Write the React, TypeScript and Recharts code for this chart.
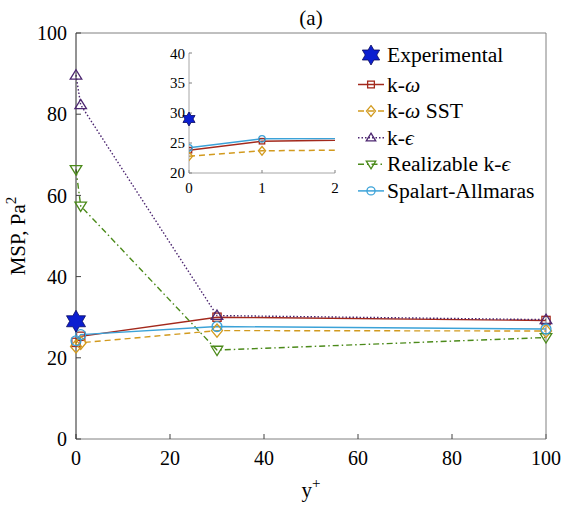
import React from "react";
import { LineChart, Line, XAxis, YAxis, Customized } from "recharts";

// y+ positions of the simulated points
const yPlus = [0, 1, 30, 100];
const kOmega = [23.8, 25.3, 30.0, 29.2];
const kOmegaSst = [22.8, 23.7, 26.7, 26.6];
const kEpsilon = [89.6, 82.3, 30.4, 29.4];
const realizableKEps = [66.4, 57.4, 21.9, 25.0];
const spalartAllmaras = [24.2, 25.7, 27.7, 27.1];
const experimental = [29.0, null, null, null];

const mainTicksX = [0, 20, 40, 60, 80, 100];
const mainTicksY = [0, 20, 40, 60, 80, 100];
const insetTicksX = [0, 1, 2];
const insetTicksY = [20, 25, 30, 35, 40];

const SERIF = "Liberation Serif, Times New Roman, Times, serif";

type Shape = "square" | "diamond" | "triUp" | "triDown" | "circle" | "star";

type Series = {
  key: string;
  label: React.ReactNode;
  color: string;
  dash?: string;
  shape: Shape;
  values: (number | null)[];
};

const it = (t: string) => <tspan fontStyle="italic">{t}</tspan>;

const series: Series[] = [
  { key: "kw", label: <>k-{it("ω")}</>, color: "#a3291c", shape: "square", values: kOmega },
  { key: "sst", label: <>k-{it("ω")} SST</>, color: "#d29a1e", dash: "6 4", shape: "diamond", values: kOmegaSst },
  { key: "ke", label: <>k-{it("ϵ")}</>, color: "#4c2670", dash: "1.5 2", shape: "triUp", values: kEpsilon },
  { key: "rke", label: <>Realizable k-{it("ϵ")}</>, color: "#4b8a1a", dash: "6 3 1.5 3", shape: "triDown", values: realizableKEps },
  { key: "sa", label: "Spalart-Allmaras", color: "#3ba2d8", shape: "circle", values: spalartAllmaras },
];

const expSeries: Series = { key: "exp", label: "Experimental", color: "#0b1ed0", shape: "star", values: experimental };

const data = yPlus.map((x, i) => {
  const row: Record<string, number | null> = { x };
  [...series, expSeries].forEach((s) => (row[s.key] = s.values[i]));
  return row;
});

function starPath(cx: number, cy: number, R: number): string {
  const r = R / Math.sqrt(3);
  let d = "";
  for (let i = 0; i < 12; i++) {
    const a = -Math.PI / 2 + (i * Math.PI) / 6;
    const rad = i % 2 === 0 ? R : r;
    d += (i ? "L" : "M") + (cx + rad * Math.cos(a)).toFixed(2) + "," + (cy + rad * Math.sin(a)).toFixed(2);
  }
  return d + "Z";
}

function Marker({ shape, cx, cy, s, color }: { shape: Shape; cx: number; cy: number; s: number; color: string }) {
  const common = { fill: "none", stroke: color, strokeWidth: 1.3 };
  switch (shape) {
    case "square":
      return <rect x={cx - s * 0.75} y={cy - s * 0.75} width={s * 1.5} height={s * 1.5} {...common} />;
    case "diamond":
      return <polygon points={`${cx},${cy - s * 1.2} ${cx + s},${cy} ${cx},${cy + s * 1.2} ${cx - s},${cy}`} {...common} />;
    case "triUp":
      return <polygon points={`${cx},${cy - s} ${cx + s * 1.05},${cy + s * 0.7} ${cx - s * 1.05},${cy + s * 0.7}`} {...common} />;
    case "triDown":
      return <polygon points={`${cx},${cy + s} ${cx + s * 1.05},${cy - s * 0.7} ${cx - s * 1.05},${cy - s * 0.7}`} {...common} />;
    case "circle":
      return <circle cx={cx} cy={cy} r={s * 0.9} {...common} />;
    case "star":
      return <path d={starPath(cx, cy, s)} fill={color} stroke="#0a0a60" strokeWidth={0.8} />;
  }
  return null;
}

const dotFn = (sr: Series, size: number) => (p: any) => {
  if (p.cx == null || p.cy == null || p.value == null) return <g key={`${sr.key}-${p.index}`} />;
  return (
    <g key={`${sr.key}-${p.index}`}>
      <Marker shape={sr.shape} cx={p.cx} cy={p.cy} s={size} color={sr.color} />
    </g>
  );
};

// legend drawn inside the chart svg, top-right of the plot
function LegendBox() {
  const rows = [expSeries, ...series];
  const left = 357;
  const rowY = (i: number) => (i === 0 ? 55 : 84.5 + (i - 1) * 26.6);
  return (
    <g>
      {rows.map((s, i) => {
        const y = rowY(i);
        return (
          <g key={s.key}>
            {s.shape !== "star" && (
              <line x1={left + 1} x2={left + 27} y1={y} y2={y} stroke={s.color} strokeWidth={1.5} strokeDasharray={s.dash} />
            )}
            <Marker shape={s.shape} cx={left + 14} cy={y} s={s.shape === "star" ? 10 : 4.5} color={s.color} />
            <text x={left + 30} y={y + 7} fontFamily={SERIF} fontSize={21.6} fill="#000">
              {s.label}
            </text>
          </g>
        );
      })}
    </g>
  );
}

const tickText = { fill: "#000", fontSize: 20, fontFamily: SERIF };
const insetTickText = { fill: "#000", fontSize: 15, fontFamily: SERIF };

export default function App() {
  return (
    <div style={{ position: "absolute", left: 0, top: 0, width: 565, height: 510, background: "#fff" }}>
      <LineChart width={565} height={510} data={data} margin={{ top: 0, right: 0, bottom: 0, left: 0 }}>
        <XAxis
          xAxisId="t"
          orientation="top"
          type="number"
          dataKey="x"
          domain={[0, 100]}
          ticks={mainTicksX}
          height={33}
          tickSize={-5}
          tick={false}
          axisLine={{ stroke: "#808080" }}
          tickLine={{ stroke: "#404040" }}
          label={{
            content: ({ viewBox }: any) => (
              <text x={viewBox.x + viewBox.width / 2} y={viewBox.y + 25} textAnchor="middle" fontFamily={SERIF} fontSize={21} fill="#000">
                (a)
              </text>
            ),
          }}
        />
        <XAxis
          xAxisId="b"
          type="number"
          dataKey="x"
          domain={[0, 100]}
          ticks={mainTicksX}
          height={71}
          tickSize={-5}
          tickMargin={17}
          tick={tickText}
          axisLine={{ stroke: "#808080" }}
          tickLine={{ stroke: "#404040" }}
          label={{
            content: ({ viewBox }: any) => (
              <text x={viewBox.x + viewBox.width / 2} y={viewBox.y + 58} textAnchor="middle" fontFamily={SERIF} fontSize={21} fill="#000">
                y<tspan dy={-9} fontSize={15}>+</tspan>
              </text>
            ),
          }}
        />
        <YAxis
          yAxisId="l"
          type="number"
          domain={[0, 100]}
          ticks={mainTicksY}
          width={76}
          tickSize={-5}
          tickMargin={14}
          tick={tickText}
          axisLine={{ stroke: "#262626" }}
          tickLine={{ stroke: "#404040" }}
          label={{
            content: ({ viewBox }: any) => {
              const cx = viewBox.x + 25;
              const cy = viewBox.y + viewBox.height / 2;
              return (
                <text x={cx} y={cy} transform={`rotate(-90 ${cx} ${cy})`} textAnchor="middle" fontFamily={SERIF} fontSize={21} fill="#000">
                  MSP, Pa<tspan dy={-9} fontSize={15}>2</tspan>
                </text>
              );
            },
          }}
        />
        <YAxis
          yAxisId="r"
          orientation="right"
          type="number"
          domain={[0, 100]}
          ticks={mainTicksY}
          width={19}
          tickSize={-5}
          tick={false}
          axisLine={{ stroke: "#808080" }}
          tickLine={{ stroke: "#404040" }}
        />
        {series.map((s) => (
          <Line
            key={s.key}
            xAxisId="b"
            yAxisId="l"
            type="linear"
            dataKey={s.key}
            name={s.key}
            stroke={s.color}
            strokeWidth={1.4}
            strokeDasharray={s.dash}
            dot={dotFn(s, 5.5)}
            activeDot={false}
            isAnimationActive={false}
          />
        ))}
        <Line
          xAxisId="b"
          yAxisId="l"
          type="linear"
          dataKey="exp"
          stroke="none"
          dot={dotFn(expSeries, 11)}
          activeDot={false}
          isAnimationActive={false}
        />
        <Customized component={LegendBox} />
      </LineChart>

      <div style={{ position: "absolute", left: 150, top: 45 }}>
        <LineChart width={192} height={155} data={data} margin={{ top: 8, right: 7, bottom: 0, left: 0 }}>
          <XAxis xAxisId="it" orientation="top" type="number" dataKey="x" domain={[0, 2]} ticks={insetTicksX} height={0} tickSize={-3} tick={false} axisLine={{ stroke: "#a6a6a6" }} tickLine={{ stroke: "#808080" }} />
          <XAxis
            xAxisId="ib"
            type="number"
            dataKey="x"
            domain={[0, 2]}
            allowDataOverflow
            ticks={insetTicksX}
            height={27}
            tickSize={-3}
            tickMargin={12}
            tick={insetTickText}
            axisLine={{ stroke: "#a6a6a6" }}
            tickLine={{ stroke: "#808080" }}
          />
          <XAxis xAxisId="ie" type="number" dataKey="x" domain={[0, 2]} hide />
          <YAxis
            yAxisId="il"
            type="number"
            domain={[20, 40]}
            allowDataOverflow
            ticks={insetTicksY}
            width={39}
            tickSize={-3}
            tickMargin={7}
            tick={insetTickText}
            axisLine={{ stroke: "#a6a6a6" }}
            tickLine={{ stroke: "#808080" }}
          />
          <YAxis yAxisId="ir" orientation="right" type="number" domain={[20, 40]} ticks={insetTicksY} width={0} tickSize={-3} tick={false} axisLine={{ stroke: "#a6a6a6" }} tickLine={{ stroke: "#808080" }} />
          {series.map((s) => (
            <Line
              key={s.key}
              xAxisId="ib"
              yAxisId="il"
              type="linear"
              dataKey={s.key}
              stroke={s.color}
              strokeWidth={1.5}
              strokeDasharray={s.dash}
              dot={dotFn(s, 3.6)}
              activeDot={false}
              isAnimationActive={false}
            />
          ))}
          <Line
            xAxisId="ie"
            yAxisId="il"
            type="linear"
            dataKey="exp"
            stroke="none"
            dot={dotFn(expSeries, 7)}
            activeDot={false}
            isAnimationActive={false}
          />
        </LineChart>
      </div>
    </div>
  );
}
